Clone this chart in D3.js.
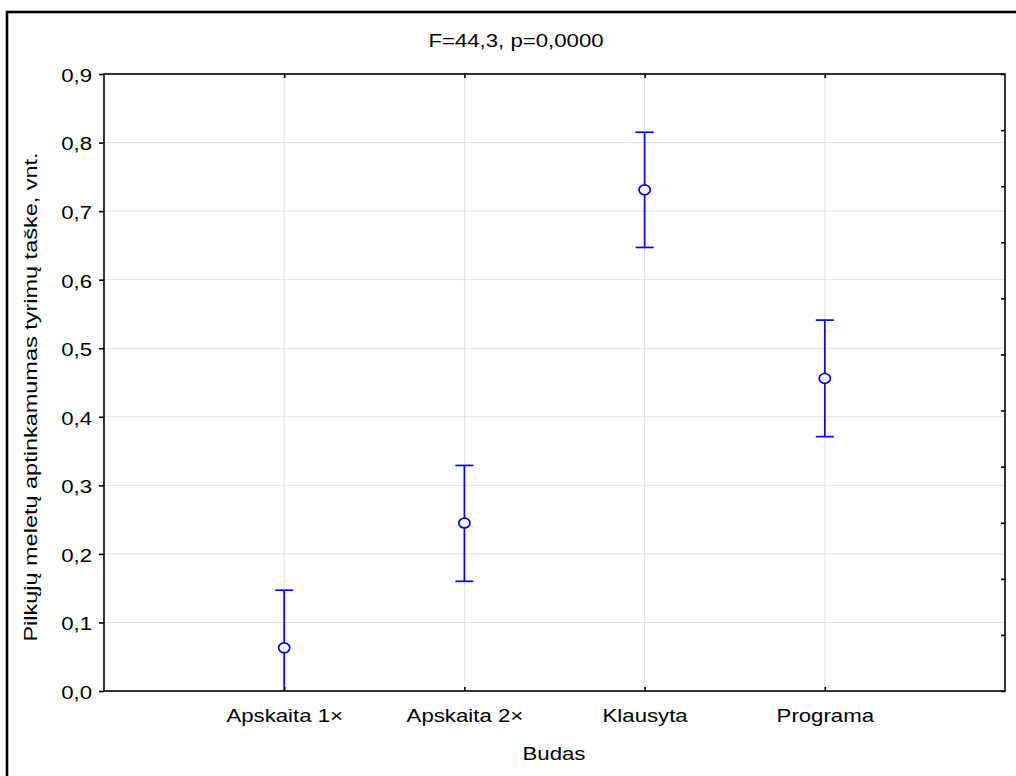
<!DOCTYPE html>
<html>
<head>
<meta charset="utf-8">
<script src="https://cdn.jsdelivr.net/npm/d3@7"></script>
<style>
  body { margin: 0; background: #fff; }
  text { font-family: "Liberation Sans", Arial, sans-serif; fill: #000; }
</style>
</head>
<body>
<div class="chartWrapper"></div>
<script>
// values
var categories = ["Apskaita 1×", "Apskaita 2×", "Klausyta", "Programa"];
var means = [0.063, 0.245, 0.731, 0.456];
var lowerCI = [-0.021, 0.160, 0.647, 0.371];
var upperCI = [0.147, 0.329, 0.815, 0.541];
var yTicks = [0, 0.1, 0.2, 0.3, 0.4, 0.5, 0.6, 0.7, 0.8, 0.9];
var titleText = "F=44,3, p=0,0000";
var xTitle = "Budas";
var yTitle = "Pilkųjų meletų aptinkamumas tyrimų taške, vnt.";

var chart = {
    width: 1016,
    height: 776,
    plot: { left: 104, right: 1005, top: 74, bottom: 691 },
    stretch: "scale(1.2,1)",
    fontSize: "18.5px",
    blue: "#0000ff",
    init: function () {
        this.svg = d3.select(".chartWrapper")
            .append("svg")
            .attr("width", this.width)
            .attr("height", this.height);
        this.xScale = d3.scalePoint()
            .domain(categories)
            .range([this.plot.left, this.plot.right])
            .padding(1);
        this.yScale = d3.scaleLinear()
            .domain([0, 0.9])
            .range([this.plot.bottom, this.plot.top]);
        // right side has its own tick spacing (11 steps)
        this.rScale = d3.scaleLinear()
            .domain([0, 11])
            .range([this.plot.bottom, this.plot.top]);
    },
    render: function () {
        this.init();
        this.drawFrame();
        this.drawGrid();
        this.drawPoints();
        this.drawAxis();
        this.drawTitles();
    },
    drawFrame: function () {
        this.svg.append("rect")
            .attr("x", 7).attr("y", 12)
            .attr("width", 1040).attr("height", 820)
            .attr("fill", "none")
            .attr("stroke", "#000")
            .attr("stroke-width", 2.6);
    },
    drawGrid: function () {
        var svg = this.svg, p = this.plot,
            xScale = this.xScale, yScale = this.yScale;
        var g = svg.append("g").attr("class", "grid");
        g.selectAll(".hgrid")
            .data(yTicks.slice(1, yTicks.length - 1))
            .enter().append("line")
            .attr("x1", p.left).attr("x2", p.right)
            .attr("y1", function (d) { return yScale(d); })
            .attr("y2", function (d) { return yScale(d); })
            .attr("stroke", "#e2e2e2")
            .attr("stroke-width", 1);
        g.selectAll(".vgrid")
            .data(categories)
            .enter().append("line")
            .attr("x1", function (d) { return xScale(d); })
            .attr("x2", function (d) { return xScale(d); })
            .attr("y1", p.top).attr("y2", p.bottom)
            .attr("stroke", "#e2e2e2")
            .attr("stroke-width", 1);
    },
    drawPoints: function () {
        var svg = this.svg, p = this.plot,
            xScale = this.xScale, yScale = this.yScale,
            blue = this.blue;
        svg.append("clipPath").attr("id", "plotClip")
            .append("rect")
            .attr("x", p.left).attr("y", p.top)
            .attr("width", p.right - p.left)
            .attr("height", p.bottom - p.top);
        var gPts = svg.append("g")
            .attr("clip-path", "url(#plotClip)")
            .selectAll(".pt")
            .data(categories)
            .enter().append("g");
        gPts.append("line")
            .attr("x1", function (d) { return xScale(d); })
            .attr("x2", function (d) { return xScale(d); })
            .attr("y1", function (d, i) { return yScale(upperCI[i]); })
            .attr("y2", function (d, i) { return yScale(lowerCI[i]); })
            .attr("stroke", blue).attr("stroke-width", 1.7);
        [upperCI, lowerCI].forEach(function (arr) {
            gPts.append("line")
                .attr("x1", function (d) { return xScale(d) - 9; })
                .attr("x2", function (d) { return xScale(d) + 9; })
                .attr("y1", function (d, i) { return yScale(arr[i]); })
                .attr("y2", function (d, i) { return yScale(arr[i]); })
                .attr("stroke", blue).attr("stroke-width", 1.7);
        });
        gPts.append("ellipse")
            .attr("cx", function (d) { return xScale(d); })
            .attr("cy", function (d, i) { return yScale(means[i]); })
            .attr("rx", 5.6).attr("ry", 4.9)
            .attr("fill", "#fff")
            .attr("stroke", blue).attr("stroke-width", 1.7);
    },
    drawAxis: function () {
        var svg = this.svg, p = this.plot;
        var fmt = function (d) { return d3.format(".1f")(d).replace(".", ","); };

        var left = svg.append("g")
            .attr("transform", "translate(" + p.left + ",0)")
            .call(d3.axisLeft(this.yScale).tickValues(yTicks).tickSize(5).tickPadding(5).tickFormat(fmt));
        left.selectAll("text")
            .attr("dy", "0.4em")
            .attr("transform", this.stretch)
            .style("font-size", this.fontSize);

        var right = svg.append("g")
            .attr("transform", "translate(" + p.right + ",0)")
            .call(d3.axisLeft(this.rScale).ticks(11).tickSize(4).tickFormat(""));

        var top = svg.append("g")
            .attr("transform", "translate(0," + p.top + ")")
            .call(d3.axisBottom(this.xScale).tickSize(4).tickFormat(""));

        var bottom = svg.append("g")
            .attr("transform", "translate(0," + p.bottom + ")")
            .call(d3.axisBottom(this.xScale).tickSizeInner(-4).tickSizeOuter(0).tickPadding(18));
        bottom.selectAll("text")
            .attr("transform", this.stretch)
            .style("font-size", this.fontSize);

        [left, right, top, bottom].forEach(function (g) {
            g.select(".domain").remove();
            g.selectAll("line").attr("stroke", "#000").attr("stroke-width", 1.6);
        });

        svg.append("rect")
            .attr("x", p.left).attr("y", p.top)
            .attr("width", p.right - p.left)
            .attr("height", p.bottom - p.top)
            .attr("fill", "none")
            .attr("stroke", "#000")
            .attr("stroke-width", 1.6);
    },
    drawTitles: function () {
        var svg = this.svg, stretch = this.stretch, fs = this.fontSize;
        svg.append("text")
            .attr("transform", "translate(516,47) " + stretch)
            .attr("text-anchor", "middle")
            .style("font-size", fs)
            .text(titleText);
        svg.append("text")
            .attr("transform", "translate(554,760) " + stretch)
            .attr("text-anchor", "middle")
            .style("font-size", fs)
            .text(xTitle);
        // rotated label is long in the reference: stretch along the text
        svg.append("text")
            .attr("transform", "translate(37,397) rotate(-90) scale(1.27,1)")
            .attr("text-anchor", "middle")
            .style("font-size", fs)
            .text(yTitle);
    }
};

chart.render();
</script>
</body>
</html>
